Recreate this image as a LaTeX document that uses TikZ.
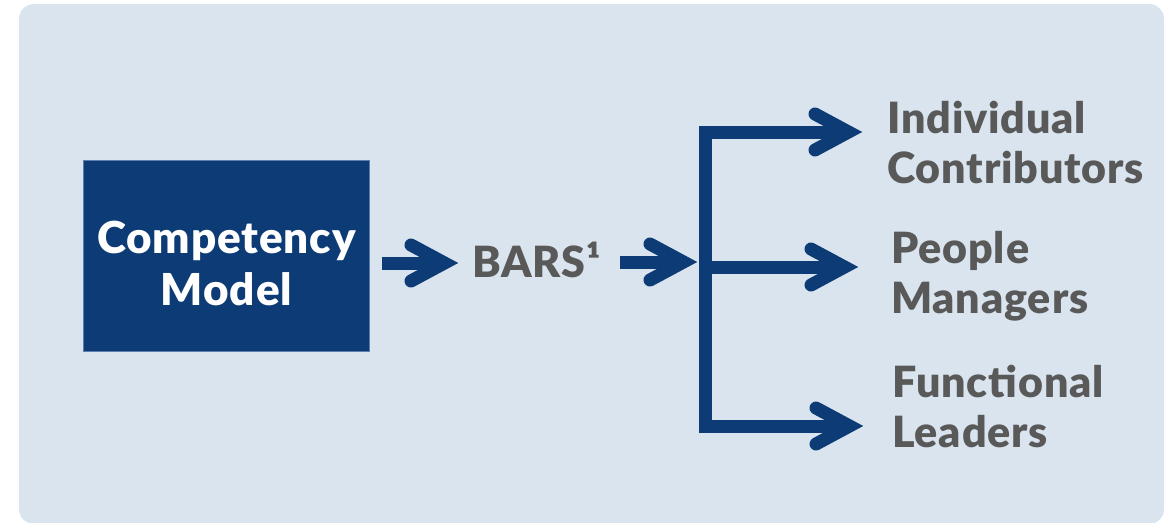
\documentclass[tikz,border=0pt]{standalone}
\usepackage{fontspec}
\setmainfont{Lato}[BoldFont={Lato Black}]
\usetikzlibrary{calc}
\definecolor{navy}{HTML}{0C3B76}
\definecolor{boxedge}{HTML}{5A7EB0}
\definecolor{bgblue}{HTML}{D9E4EE}
\definecolor{txtgray}{HTML}{595959}
\newcommand\mychev[1]{\draw[chevron] ($(#1)+(-47,-18)$) -- ($(#1)+(-13.5,0)$) -- ($(#1)+(-47,18)$);}
\begin{document}
\begin{tikzpicture}[x=1pt,y=-1pt,
  shaft/.style={draw=navy, line width=13pt, line join=miter},
  chevron/.style={draw=navy, line width=13pt, line cap=round, line join=miter, miter limit=20},
  lbl/.style={font=\bfseries\fontsize{43}{50}\selectfont\addfontfeatures{LetterSpace=2}, text=txtgray, align=left, inner sep=0pt, anchor=base west},
  cmbox/.style={draw=boxedge, line width=1.5pt, fill=navy, minimum width=286pt, minimum height=191pt, inner sep=0pt},
  cmtext/.style={font=\bfseries\fontsize{44}{52}\selectfont\addfontfeatures{LetterSpace=2}, text=white, align=center, inner sep=0pt}
]
\useasboundingbox (0,0) rectangle (1169,522);
\fill[bgblue, rounded corners=15pt] (19,4) rectangle (1164,524);
\node[cmbox] (cm) at (226.5,256) {};
\node[cmtext] (cmt) at ([yshift=-7pt]cm.center) {Competency\\Model};
\node[lbl] (bars) at (472,277) {BARS¹};
\node[lbl] (ic) at (887,183) {Individual\\Contributors};
\node[lbl] (pm) at (891,313) {People\\Managers};
\node[lbl] (fl) at (892,447) {Functional\\Leaders};
% arrow coordinates
\coordinate (a1s) at (382,263);
\coordinate (a1t) at (458,263);
\coordinate (a2s) at (620,262);
\coordinate (a2t) at (697,262);
\coordinate (bt) at (705,132);
\coordinate (bm) at (705,267);
\coordinate (bb) at (705,426);
\coordinate (t1) at (862,132);
\coordinate (t2) at (858,267);
\coordinate (t3) at (863,426);
% shafts
\draw[shaft] (a1s) -- ($(a1t)+(-13.5,0)$);
\draw[shaft] (a2s) -- ($(a2t)+(-13.5,0)$);
\draw[shaft] ($(t1)+(-13.5,0)$) -- (bt) -- (bb) -- ($(t3)+(-13.5,0)$);
\draw[shaft] (bm) -- ($(t2)+(-13.5,0)$);
% heads
\mychev{a1t}
\mychev{a2t}
\mychev{t1}
\mychev{t2}
\mychev{t3}
\end{tikzpicture}
\end{document}
